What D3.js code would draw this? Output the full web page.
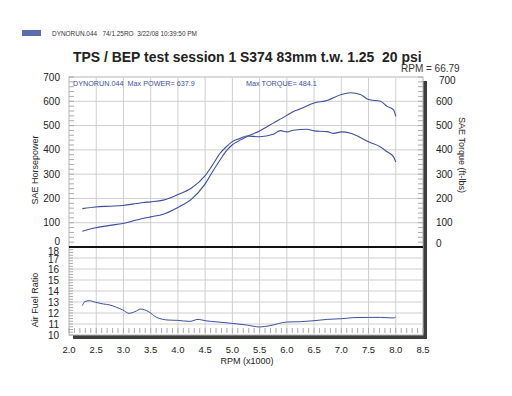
<!DOCTYPE html>
<html><head><meta charset="utf-8">
<script src="https://cdn.jsdelivr.net/npm/d3@7"></script>
<style>body{margin:0;background:#fff}svg{display:block}text{font-family:"Liberation Sans",Arial,sans-serif;white-space:pre}</style>
</head><body>
<script>
// ---- data ----
const torqueRpm = [2.245,2.49,2.75,2.99,3.24,3.36,3.50,3.73,3.99,4.25,4.50,4.65,4.77,4.90,4.99,5.14,5.26,5.50,5.75,5.88,6.0,6.12,6.37,6.50,6.74,6.86,7.0,7.17,7.35,7.50,7.72,7.84,7.96,8.0];
const torque    = [158,165,168,171,179,183,186,193,215,243,294,343,385,415,433,447,457,454,464,479,474,481,485,478,475,468,474,468,451,433,412,392,371,350];
const powerRpm  = [2.245,2.49,2.75,2.99,3.24,3.50,3.73,3.99,4.25,4.50,4.65,4.77,4.90,4.99,5.14,5.26,5.50,5.75,6.0,6.12,6.24,6.50,6.74,7.0,7.17,7.35,7.50,7.72,7.84,7.96,8.0];
const power     = [65,79,89,97,111,124,135,162,197,260,315,357,399,419,440,454,478,510,542,558,568,593,603,628,635,628,607,600,579,565,538];
const afrRpm    = [2.245,2.29,2.37,2.49,2.63,2.75,2.87,2.99,3.10,3.21,3.32,3.45,3.61,3.82,3.99,4.22,4.37,4.50,4.74,4.99,5.26,5.50,5.69,6.0,6.25,6.50,6.74,7.0,7.23,7.50,7.72,7.96,8.0];
const afr       = [12.67,13.03,13.12,12.97,12.82,12.73,12.52,12.27,11.97,12.12,12.36,12.15,11.6,11.36,11.33,11.24,11.42,11.3,11.18,11.06,10.91,10.73,10.85,11.18,11.21,11.3,11.42,11.48,11.58,11.6,11.6,11.55,11.64];
const rpmTicks  = [2.0,2.5,3.0,3.5,4.0,4.5,5.0,5.5,6.0,6.5,7.0,7.5,8.0,8.5];
const powerTicks = [0,100,200,300,400,500,600,700];
const afrTicks  = [10,11,12,13,14,15,16,17,18];
const headerText = "DYNORUN.044   74/1.25RO  3/22/08 10:39:50 PM";
const titleText = "TPS / BEP test session 1 S374 83mm t.w. 1.25  20 psi";
const rpmNote = "RPM = 66.79";
const maxPowerText = "DYNORUN.044  Max POWER= 637.9";
const maxTorqueText = "Max TORQUE= 484.1";

// ---- layout ----
const W = 512, H = 396;
const L = 69, R = 423, T = 77, M = 247, B = 335;
const blue = "#3d4ea3", grid = "#cfcfcf";

const svg = d3.select("body").append("svg").attr("width", W).attr("height", H);

const x = d3.scaleLinear().domain([2, 8.5]).range([L, R]);
const yTop = d3.scaleLinear().domain([0, 700]).range([M, T]);
const yAfr = d3.scaleLinear().domain([10, 18]).range([B, M]);

function fit(sel, target) {
  const fs = +sel.attr("font-size");
  const w = sel.node().getComputedTextLength();
  if (w > 0) sel.attr("font-size", fs * target / w);
}

// shadow
svg.append("rect").attr("x", R).attr("y", T + 4).attr("width", 4).attr("height", B - T).attr("fill", "#3c3f3c");
svg.append("rect").attr("x", L + 4).attr("y", B).attr("width", R - L).attr("height", 4).attr("fill", "#3c3f3c");

// plot box
svg.append("rect").attr("x", L).attr("y", T).attr("width", R - L).attr("height", B - T).attr("fill", "#fff").attr("stroke", "#b5b5b5").attr("stroke-width", 1);

// vertical grid
svg.append("g").selectAll("line").data(rpmTicks.slice(1, -1)).join("line")
  .attr("x1", d => x(d)).attr("x2", d => x(d)).attr("y1", T).attr("y2", B)
  .attr("stroke", grid).attr("stroke-width", 1);
// horizontal grid top
svg.append("g").selectAll("line").data(powerTicks.slice(1, -1)).join("line")
  .attr("x1", L).attr("x2", R).attr("y1", d => yTop(d)).attr("y2", d => yTop(d))
  .attr("stroke", grid);
// horizontal grid afr
svg.append("g").selectAll("line").data(afrTicks.slice(1, -1)).join("line")
  .attr("x1", L).attr("x2", R).attr("y1", d => yAfr(d)).attr("y2", d => yAfr(d))
  .attr("stroke", grid);

// minor ticks
const minorTop = d3.range(0, 701, 20);
svg.append("g").selectAll("line").data(minorTop).join("line")
  .attr("x1", L).attr("x2", L + 5).attr("y1", d => yTop(d)).attr("y2", d => yTop(d)).attr("stroke", "#aaa");
svg.append("g").selectAll("line").data(minorTop).join("line")
  .attr("x1", R - 5).attr("x2", R).attr("y1", d => yTop(d)).attr("y2", d => yTop(d)).attr("stroke", "#aaa");
const minorAfr = d3.range(10, 18.01, 0.25);
svg.append("g").selectAll("line").data(minorAfr).join("line")
  .attr("x1", L).attr("x2", L + 4).attr("y1", d => yAfr(d)).attr("y2", d => yAfr(d)).attr("stroke", "#aaa");
const minorX = d3.range(2, 8.501, 0.1);
svg.append("g").selectAll("line").data(minorX).join("line")
  .attr("x1", d => x(d)).attr("x2", d => x(d)).attr("y1", B - 7).attr("y2", B - 2).attr("stroke", "#aaa");

// separator
svg.append("line").attr("x1", L).attr("x2", R).attr("y1", M).attr("y2", M).attr("stroke", "#111").attr("stroke-width", 2);

// lines
const lineTop = d3.line().x(d => x(d[0])).y(d => yTop(d[1])).curve(d3.curveMonotoneX);
svg.append("path").attr("d", lineTop(d3.zip(torqueRpm, torque))).attr("fill", "none").attr("stroke", blue).attr("stroke-width", 1.1);
svg.append("path").attr("d", lineTop(d3.zip(powerRpm, power))).attr("fill", "none").attr("stroke", blue).attr("stroke-width", 1.1);
const lineAfr = d3.line().x(d => x(d[0])).y(d => yAfr(d[1])).curve(d3.curveMonotoneX);
svg.append("path").attr("d", lineAfr(d3.zip(afrRpm, afr))).attr("fill", "none").attr("stroke", blue).attr("stroke-width", 1);

// left tick labels
svg.append("g").selectAll("text").data(powerTicks).join("text")
  .attr("x", 60).attr("y", d => yTop(d) + (d === 0 ? -6 : 0)).attr("dy", "0.35em")
  .attr("text-anchor", "end").attr("font-size", 10).attr("fill", "#222").text(d => d);
svg.append("g").selectAll("text").data(powerTicks).join("text")
  .attr("x", d => d === 700 ? 439 : 436).attr("y", d => yTop(d) + (d === 0 ? -4 : d === 700 ? 3 : 0)).attr("dy", "0.35em")
  .attr("text-anchor", "start").attr("font-size", 10).attr("fill", "#222").text(d => d);
svg.append("g").selectAll("text").data(afrTicks).join("text")
  .attr("x", 59).attr("y", d => yAfr(d) + (d === 18 ? 4 : d === 17 ? 1.5 : 0)).attr("dy", "0.35em")
  .attr("text-anchor", "end").attr("font-size", 10).attr("fill", "#222").text(d => d);
// x tick labels
svg.append("g").selectAll("text").data(rpmTicks).join("text")
  .attr("x", d => x(d)).attr("y", 353).attr("text-anchor", "middle")
  .attr("font-size", 9.5).attr("fill", "#222").text(d => d.toFixed(1));

// axis titles
svg.append("text").attr("transform", "translate(38,170) rotate(-90)").attr("text-anchor", "middle")
  .attr("font-size", 9).attr("fill", "#222").text("SAE Horsepower");
svg.append("text").attr("transform", "translate(459,155) rotate(90)").attr("text-anchor", "middle")
  .attr("font-size", 9).attr("fill", "#222").text("SAE Torque (ft-lbs)");
svg.append("text").attr("transform", "translate(38,300) rotate(-90)").attr("text-anchor", "middle")
  .attr("font-size", 9).attr("fill", "#222").text("Air Fuel Ratio");
svg.append("text").attr("x", 247).attr("y", 364).attr("text-anchor", "middle")
  .attr("font-size", 9).attr("fill", "#222").text("RPM (x1000)");

// header
svg.append("rect").attr("x", 22).attr("y", 30).attr("width", 19).attr("height", 6).attr("fill", "#5b6cb3");
fit(svg.append("text").attr("x", 52).attr("y", 35.5).attr("font-size", 6.8).attr("fill", "#333").text(headerText), 145);

// title
fit(svg.append("text").attr("x", 73).attr("y", 62).attr("font-weight", "bold")
  .attr("font-size", 13).attr("fill", "#222").text(titleText), 349);

svg.append("text").attr("x", 401).attr("y", 72).attr("font-family", "Liberation Serif, serif")
  .attr("font-size", 10).attr("fill", "#333").text(rpmNote);

// in-plot annotations
fit(svg.append("text").attr("x", 73).attr("y", 86).attr("font-size", 6.8).attr("fill", blue).text(maxPowerText), 122);
fit(svg.append("text").attr("x", 246).attr("y", 86).attr("font-size", 6.8).attr("fill", blue).text(maxTorqueText), 71);
</script>
</body></html>
